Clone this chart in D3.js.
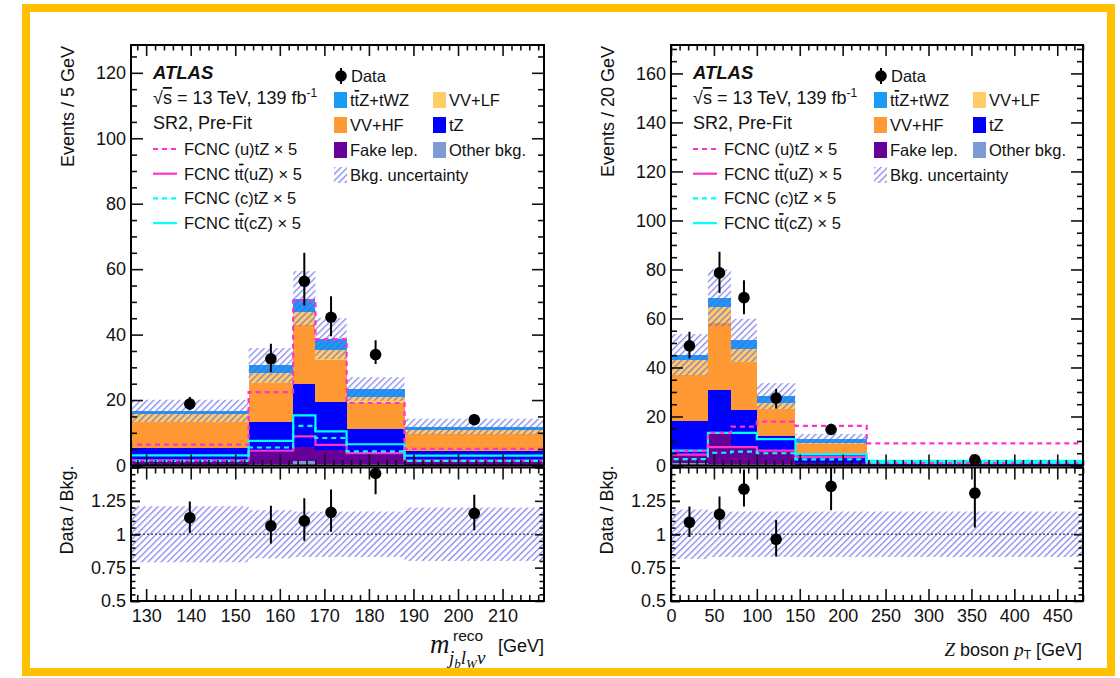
<!DOCTYPE html>
<meta charset="utf-8">
<style>
    body { margin: 0; background: #fff; }
    svg { display: block; font-family: "Liberation Sans", Arial, sans-serif; }
    .tick text { font-size: 18px; fill: #111; font-family: "Liberation Sans", Arial, sans-serif; }
    .tick line { stroke: #111; stroke-width: 1.6px; }
</style>
<body>
<script src="https://cdnjs.cloudflare.com/ajax/libs/d3/7.8.5/d3.min.js"></script>
<script>
    // ---------- left plot: m(reco) of j_b l_W nu ----------
    var mEdges  = [126.6, 153, 163, 168, 175, 188, 219.3];
    var mOther  = [0.3, 0.4, 1.5, 0.4, 0.4, 0.3];
    var mFake   = [1.0, 3.8, 4.3, 4.4, 3.4, 0.9];
    var mTZ     = [4.0, 9.1, 19.2, 14.5, 7.3, 3.1];
    var mVVHF   = [8.0, 11.9, 17.9, 12.8, 8.0, 5.3];
    var mVVLF   = [2.5, 3.1, 4.0, 3.1, 1.8, 1.1];
    var mTTZ    = [0.9, 2.3, 4.1, 3.6, 2.5, 1.2];
    var mUnc    = [3.4, 5.3, 8.4, 6.3, 3.6, 2.4];
    var mData   = [18.8, 32.6, 56.3, 45.3, 33.9, 14.0];
    var mDataHi = [20.9, 37.2, 65.0, 51.7, 38.3, 15.7];
    var mDataLo = [17.0, 28.6, 48.9, 39.5, 31.0, 12.4];
    var mUtZ    = [6.4, 22.4, 50.4, 38.6, 19.1, 5.1];
    var mTTuZ   = [1.6, 4.5, 8.9, 6.3, 3.8, 1.5];
    var mCtZ    = [1.4, 5.5, 12.1, 8.4, 4.3, 1.4];
    var mTTcZ   = [3.1, 7.5, 15.3, 10.4, 6.5, 3.0];
    var mRatio   = [1.124, 1.063, 1.10, 1.164, 1.455, 1.157];
    var mRatioHi = [1.245, 1.214, 1.27, 1.336, 1.60, 1.295];
    var mRatioLo = [1.01, 0.93, 0.95, 1.018, 1.30, 1.03];
    var mBand    = [0.21, 0.18, 0.17, 0.17, 0.17, 0.20];
    var mXMajor  = [130, 140, 150, 160, 170, 180, 190, 200, 210];

    // ---------- right plot: Z boson pT ----------
    var zEdges  = [0, 43, 70, 100, 145, 228, 480];
    var zOther  = [1.0, 0.8, 0.7, 0.5, 0.3, 0.1];
    var zFake   = [3.4, 12.6, 6.8, 5.6, 0.8, 0.1];
    var zTZ     = [13.7, 17.5, 15.3, 5.8, 3.0, 0.4];
    var zVVHF   = [18.7, 27.3, 19.4, 11.3, 4.5, 0.6];
    var zVVLF   = [6.4, 6.5, 5.2, 2.3, 0.5, 0.2];
    var zTTZ    = [2.0, 3.7, 3.7, 2.8, 1.8, 0.36];
    var zUnc    = [8.4, 11.6, 8.8, 5.3, 2.0, 0.3];
    var zData   = [48.8, 78.6, 68.5, 27.5, 14.7, 2.3];
    var zDataHi = [54.6, 87.2, 75.6, 31.2, 17.0, 4.1];
    var zDataLo = [43.8, 70.4, 61.7, 23.3, 12.9, 0.7];
    var zUtZ    = [5.9, 13.3, 15.9, 17.9, 16.2, 9.0];
    var zTTuZ   = [4.4, 7.5, 7.5, 6.1, 3.4, 1.0];
    var zCtZ    = [2.6, 5.2, 5.7, 5.0, 2.5, 1.2];
    var zTTcZ   = [6.1, 13.3, 13.3, 10.8, 4.5, 1.9];
    var zRatio   = [1.089, 1.149, 1.338, 0.962, 1.359, 1.308];
    var zRatioHi = [1.207, 1.283, 1.485, 1.106, 1.60, 1.60];
    var zRatioLo = [0.98, 1.036, 1.207, 0.833, 1.18, 1.05];
    var zBand    = [0.185, 0.17, 0.17, 0.17, 0.17, 0.17];
    var zXMajor  = [0, 50, 100, 150, 200, 250, 300, 350, 400, 450];

    var ratioMajor = [0.5, 0.75, 1, 1.25];

    var stackKeys   = ["other", "fake", "tz", "vvhf", "vvlf", "ttz"];
    var stackColors = {other: "#7b9bd2", fake: "#660099", tz: "#0000ff",
                       vvhf: "#ff9933", vvlf: "#ffcc66", ttz: "#1a9cf5"};
    var magenta = "#ff33cc", cyan = "#00ffff", hatchColor = "#5a5ae8";

    var W = 1120, H = 678;
    var svg = d3.select("body").append("svg").attr("width", W).attr("height", H);

    var defs = svg.append("defs");
    defs.append("pattern")
        .attr("id", "hatch")
        .attr("patternUnits", "userSpaceOnUse")
        .attr("width", 4.6).attr("height", 4.6)
        .attr("patternTransform", "rotate(45)")
        .append("line")
        .attr("x1", 0.7).attr("y1", 0).attr("x2", 0.7).attr("y2", 4.6)
        .attr("stroke", hatchColor).attr("stroke-width", 1.2).attr("stroke-opacity", 0.8);

    // yellow border
    svg.append("rect")
        .attr("x", 26).attr("y", 8).attr("width", 1085).attr("height", 664)
        .attr("fill", "none").attr("stroke", "#ffc000").attr("stroke-width", 8);

    var yTop = 45, yBot = 465.5, rTop = 467.5, rBot = 601;

    function range(a, b, s) {
        var out = [];
        for (var v = a; v <= b + 1e-9; v += s) out.push(+v.toFixed(4));
        return out;
    }

    function addTicks(g, axisFn, scale, tx, ty, vals, len, withLabels, fmt) {
        var ax = axisFn(scale).tickValues(vals).tickSize(-len).tickPadding(5);
        if (!withLabels) ax.tickFormat("");
        else if (fmt) ax.tickFormat(fmt);
        var a = g.append("g").attr("transform", "translate(" + tx + "," + ty + ")").call(ax);
        a.select(".domain").remove();
        return a;
    }

    function stepPath(x, y, edges, vals) {
        var pts = [[edges[0], 0]];
        vals.forEach(function(v, i) {
            pts.push([edges[i], v]);
            pts.push([edges[i + 1], v]);
        });
        pts.push([edges[edges.length - 1], 0]);
        return d3.line().x(function(d) { return x(d[0]); }).y(function(d) { return y(d[1]); })(pts);
    }

    function drawPanel(p) {
        var g = svg.append("g");
        var x = d3.scaleLinear().domain([p.edges[0], p.edges[p.edges.length - 1]]).range([p.x0, p.x1]);
        var y = d3.scaleLinear().domain([0, p.yMax]).range([yBot, yTop]);
        var yr = d3.scaleLinear().domain([0.5, 1.5]).range([rBot, rTop]);

        defs.append("clipPath").attr("id", "clipU" + p.id)
            .append("rect").attr("x", p.x0).attr("y", yTop).attr("width", p.x1 - p.x0).attr("height", yBot - yTop);
        defs.append("clipPath").attr("id", "clipR" + p.id)
            .append("rect").attr("x", p.x0).attr("y", rTop).attr("width", p.x1 - p.x0).attr("height", rBot - rTop);

        var up = g.append("g").attr("clip-path", "url(#clipU" + p.id + ")");

        var rows = p.edges.slice(1).map(function(e, i) {
            var r = {lo: p.edges[i], hi: e};
            stackKeys.forEach(function(k) { r[k] = p.stack[k][i]; });
            return r;
        });
        var series = d3.stack().keys(stackKeys)(rows);
        series.forEach(function(s) {
            up.selectAll(null).data(s).enter().append("rect")
                .attr("x", function(d) { return x(d.data.lo); })
                .attr("width", function(d) { return x(d.data.hi) - x(d.data.lo); })
                .attr("y", function(d) { return y(d[1]); })
                .attr("height", function(d) { return Math.max(0, y(d[0]) - y(d[1])); })
                .attr("fill", stackColors[s.key])
                .attr("shape-rendering", "crispEdges");
        });
        var totals = rows.map(function(r) { return d3.sum(stackKeys, function(k) { return r[k]; }); });

        // background uncertainty
        up.selectAll(null).data(rows).enter().append("rect")
            .attr("x", function(d) { return x(d.lo); })
            .attr("width", function(d) { return x(d.hi) - x(d.lo); })
            .attr("y", function(d, i) { return y(totals[i] + p.unc[i]); })
            .attr("height", function(d, i) { return y(Math.max(0, totals[i] - p.unc[i])) - y(totals[i] + p.unc[i]); })
            .attr("fill", "url(#hatch)");

        // FCNC signals
        p.lines.forEach(function(l) {
            up.append("path")
                .attr("d", stepPath(x, y, p.edges, l.vals))
                .attr("fill", "none")
                .attr("stroke", l.color)
                .attr("stroke-width", 2.2)
                .attr("stroke-dasharray", l.dash ? "5,4" : null);
        });

        // data
        var centers = rows.map(function(r) { return (r.lo + r.hi) / 2; });
        up.selectAll(null).data(p.data).enter().append("line")
            .attr("x1", function(d, i) { return x(centers[i]); })
            .attr("x2", function(d, i) { return x(centers[i]); })
            .attr("y1", function(d, i) { return y(p.dataHi[i]); })
            .attr("y2", function(d, i) { return y(p.dataLo[i]); })
            .attr("stroke", "#000").attr("stroke-width", 2);
        up.selectAll(null).data(p.data).enter().append("circle")
            .attr("cx", function(d, i) { return x(centers[i]); })
            .attr("cy", function(d) { return y(d); })
            .attr("r", 5.8).attr("fill", "#000");

        // upper axes
        var yMinor = range(0, p.yMax, 5).filter(function(v) { return v % 20 !== 0; });
        var yMajor = range(0, p.yMax, 20);
        var xMinor = range(Math.ceil(p.edges[0] / p.xMinorStep) * p.xMinorStep, p.edges[p.edges.length - 1], p.xMinorStep)
            .filter(function(v) { return p.xMajor.indexOf(v) < 0; });
        addTicks(g, d3.axisLeft, y, p.x0, 0, yMajor, 12, true);
        addTicks(g, d3.axisLeft, y, p.x0, 0, yMinor, 6, false);
        addTicks(g, d3.axisRight, y, p.x1, 0, yMajor, 12, false);
        addTicks(g, d3.axisRight, y, p.x1, 0, yMinor, 6, false);
        addTicks(g, d3.axisTop, x, 0, yTop, p.xMajor, 11, false);
        addTicks(g, d3.axisTop, x, 0, yTop, xMinor, 5.5, false);
        addTicks(g, d3.axisBottom, x, 0, yBot, p.xMajor, 11, false);
        addTicks(g, d3.axisBottom, x, 0, yBot, xMinor, 5.5, false);
        g.append("rect").attr("x", p.x0).attr("y", yTop).attr("width", p.x1 - p.x0).attr("height", yBot - yTop)
            .attr("fill", "none").attr("stroke", "#000").attr("stroke-width", 2);

        // ratio panel
        var rp = g.append("g").attr("clip-path", "url(#clipR" + p.id + ")");
        rp.selectAll(null).data(rows).enter().append("rect")
            .attr("x", function(d) { return x(d.lo); })
            .attr("width", function(d) { return x(d.hi) - x(d.lo); })
            .attr("y", function(d, i) { return yr(1 + p.band[i]); })
            .attr("height", function(d, i) { return yr(1 - p.band[i]) - yr(1 + p.band[i]); })
            .attr("fill", "url(#hatch)");
        rp.append("line")
            .attr("x1", p.x0).attr("x2", p.x1).attr("y1", yr(1)).attr("y2", yr(1))
            .attr("stroke", "#555").attr("stroke-width", 1.5).attr("stroke-dasharray", "2,2");
        rp.selectAll(null).data(p.ratio).enter().append("line")
            .attr("x1", function(d, i) { return x(centers[i]); })
            .attr("x2", function(d, i) { return x(centers[i]); })
            .attr("y1", function(d, i) { return yr(p.ratioHi[i]); })
            .attr("y2", function(d, i) { return yr(p.ratioLo[i]); })
            .attr("stroke", "#000").attr("stroke-width", 2);
        rp.selectAll(null).data(p.ratio).enter().append("circle")
            .attr("cx", function(d, i) { return x(centers[i]); })
            .attr("cy", function(d) { return yr(d); })
            .attr("r", 5.8).attr("fill", "#000");

        var rMinor = range(0.5, 1.5, 0.05).filter(function(v) { return Math.abs(v * 4 - Math.round(v * 4)) > 1e-6; });
        var rFmt = function(v) { return String(v); };
        addTicks(g, d3.axisLeft, yr, p.x0, 0, ratioMajor.concat([1.5]), 9, false);
        addTicks(g, d3.axisLeft, yr, p.x0, 0, ratioMajor, 9, true, rFmt);
        addTicks(g, d3.axisLeft, yr, p.x0, 0, rMinor, 4.5, false);
        addTicks(g, d3.axisRight, yr, p.x1, 0, ratioMajor.concat([1.5]), 9, false);
        addTicks(g, d3.axisRight, yr, p.x1, 0, rMinor, 4.5, false);
        addTicks(g, d3.axisTop, x, 0, rTop, p.xMajor, 12, false);
        addTicks(g, d3.axisTop, x, 0, rTop, xMinor, 6, false);
        addTicks(g, d3.axisBottom, x, 0, rBot, p.xMajor, 12, true).selectAll("text").attr("dy", "0.9em");
        addTicks(g, d3.axisBottom, x, 0, rBot, xMinor, 6, false);
        g.append("rect").attr("x", p.x0).attr("y", rTop).attr("width", p.x1 - p.x0).attr("height", rBot - rTop)
            .attr("fill", "none").attr("stroke", "#000").attr("stroke-width", 2);

        // y titles
        g.append("text").attr("transform", "translate(" + (p.x0 - 57) + "," + (yTop + 1) + ") rotate(-90)")
            .attr("text-anchor", "end").attr("font-size", 18).attr("fill", "#111").text(p.yTitle);
        g.append("text").attr("transform", "translate(" + (p.x0 - 58) + "," + (rTop - 2) + ") rotate(-90)")
            .attr("text-anchor", "end").attr("font-size", 18).attr("fill", "#111").text("Data / Bkg.");

        drawLegend(p.x0 + 22);
    }

    function drawLegend(lx) {
        var L = svg.append("g").attr("fill", "#111");
        L.append("text").attr("x", lx).attr("y", 79).attr("font-size", 18.5)
            .attr("font-weight", "bold").attr("font-style", "italic").text("ATLAS");
        var t = L.append("text").attr("x", lx).attr("y", 104).attr("font-size", 18);
        t.append("tspan").text("\u221a");
        t.append("tspan").style("text-decoration", "overline").text("s");
        t.append("tspan").text(" = 13 TeV, 139 fb");
        t.append("tspan").attr("font-size", 12).attr("dy", -7).text("-1");
        L.append("text").attr("x", lx).attr("y", 129).attr("font-size", 18).text("SR2, Pre-Fit");

        var sig = [
            {name: "FCNC (u)tZ \u00d7 5", color: magenta, dash: true, bar: false},
            {name: "FCNC tt(uZ) \u00d7 5", color: magenta, dash: false, bar: true, q: "uZ"},
            {name: "FCNC (c)tZ \u00d7 5", color: cyan, dash: true, bar: false},
            {name: "FCNC tt(cZ) \u00d7 5", color: cyan, dash: false, bar: true, q: "cZ"}
        ];
        sig.forEach(function(s, i) {
            var cy = 149 + i * 24.7;
            L.append("line").attr("x1", lx).attr("x2", lx + 24).attr("y1", cy).attr("y2", cy)
                .attr("stroke", s.color).attr("stroke-width", 2.2).attr("stroke-dasharray", s.dash ? "5,4" : null);
            var tt = L.append("text").attr("x", lx + 31).attr("y", cy + 6).attr("font-size", 16.5);
            if (s.bar) {
                tt.append("tspan").text("FCNC t");
                tt.append("tspan").style("text-decoration", "overline").text("t");
                tt.append("tspan").text("(" + s.q + ") \u00d7 5");
            } else {
                tt.text(s.name);
            }
        });

        var c1 = lx + 181, c2 = lx + 280;
        // data entry
        L.append("line").attr("x1", c1 + 7).attr("x2", c1 + 7).attr("y1", 68).attr("y2", 84)
            .attr("stroke", "#000").attr("stroke-width", 2);
        L.append("circle").attr("cx", c1 + 7).attr("cy", 76).attr("r", 5.8).attr("fill", "#000");
        L.append("text").attr("x", c1 + 17).attr("y", 82).attr("font-size", 16.5).text("Data");

        var boxes = [
            {col: c1, row: 0, fill: stackColors.ttz, label: "ttZ"},
            {col: c2, row: 0, fill: stackColors.vvlf, label: "VV+LF"},
            {col: c1, row: 1, fill: stackColors.vvhf, label: "VV+HF"},
            {col: c2, row: 1, fill: stackColors.tz, label: "tZ"},
            {col: c1, row: 2, fill: stackColors.fake, label: "Fake lep."},
            {col: c2, row: 2, fill: stackColors.other, label: "Other bkg."},
            {col: c1, row: 3, fill: "url(#hatch)", label: "Bkg. uncertainty"}
        ];
        boxes.forEach(function(b) {
            var cy = 100 + b.row * 25;
            L.append("rect").attr("x", b.col).attr("y", cy - 8).attr("width", 13).attr("height", 16)
                .attr("fill", b.fill);
            var tt = L.append("text").attr("x", b.col + 16).attr("y", cy + 6).attr("font-size", 16.5);
            if (b.label === "ttZ") {
                tt.append("tspan").text("t");
                tt.append("tspan").style("text-decoration", "overline").text("t");
                tt.append("tspan").text("Z+tWZ");
            } else {
                tt.text(b.label);
            }
        });
    }

    drawPanel({
        id: "m", x0: 131, x1: 544, edges: mEdges, yMax: 128.5, xMajor: mXMajor, xMinorStep: 2,
        stack: {other: mOther, fake: mFake, tz: mTZ, vvhf: mVVHF, vvlf: mVVLF, ttz: mTTZ},
        unc: mUnc, data: mData, dataHi: mDataHi, dataLo: mDataLo,
        lines: [
            {vals: mTTuZ, color: magenta, dash: false},
            {vals: mTTcZ, color: cyan, dash: false},
            {vals: mCtZ, color: cyan, dash: true},
            {vals: mUtZ, color: magenta, dash: true}
        ],
        ratio: mRatio, ratioHi: mRatioHi, ratioLo: mRatioLo, band: mBand,
        yTitle: "Events / 5 GeV"
    });

    drawPanel({
        id: "z", x0: 671, x1: 1083, edges: zEdges, yMax: 171.6, xMajor: zXMajor, xMinorStep: 10,
        stack: {other: zOther, fake: zFake, tz: zTZ, vvhf: zVVHF, vvlf: zVVLF, ttz: zTTZ},
        unc: zUnc, data: zData, dataHi: zDataHi, dataLo: zDataLo,
        lines: [
            {vals: zTTuZ, color: magenta, dash: false},
            {vals: zTTcZ, color: cyan, dash: false},
            {vals: zCtZ, color: cyan, dash: true},
            {vals: zUtZ, color: magenta, dash: true}
        ],
        ratio: zRatio, ratioHi: zRatioHi, ratioLo: zRatioLo, band: zBand,
        yTitle: "Events / 20 GeV"
    });

    // x-axis titles
    var serif = "'Liberation Serif', 'DejaVu Serif', serif";
    svg.append("text").attr("x", 430).attr("y", 653).attr("font-family", serif)
        .attr("font-style", "italic").attr("font-size", 27).attr("fill", "#111").text("m");
    svg.append("text").attr("x", 453).attr("y", 641).attr("font-size", 15.5).attr("fill", "#111").text("reco");
    var sub = svg.append("text").attr("x", 449).attr("y", 664).attr("font-family", serif)
        .attr("font-style", "italic").attr("font-size", 19).attr("fill", "#111");
    sub.append("tspan").text("j");
    sub.append("tspan").attr("font-size", 13).attr("dy", 4).text("b");
    sub.append("tspan").attr("dy", -4).text("l");
    sub.append("tspan").attr("font-size", 13).attr("dy", 4).text("W");
    sub.append("tspan").attr("dy", -4).text("\u03bd");
    svg.append("text").attr("x", 544).attr("y", 652).attr("text-anchor", "end")
        .attr("font-size", 18).attr("fill", "#111").text("[GeV]");

    var zt = svg.append("text").attr("x", 1082).attr("y", 656).attr("text-anchor", "end")
        .attr("font-size", 18).attr("fill", "#111");
    zt.append("tspan").attr("font-family", serif).attr("font-style", "italic").attr("font-size", 19).text("Z");
    zt.append("tspan").text("  boson  ");
    zt.append("tspan").attr("font-family", serif).attr("font-style", "italic").attr("font-size", 19).text("p");
    zt.append("tspan").attr("font-size", 12).attr("dy", 3).text("T");
    zt.append("tspan").attr("dy", -3).text(" [GeV]");
</script>
</body>
